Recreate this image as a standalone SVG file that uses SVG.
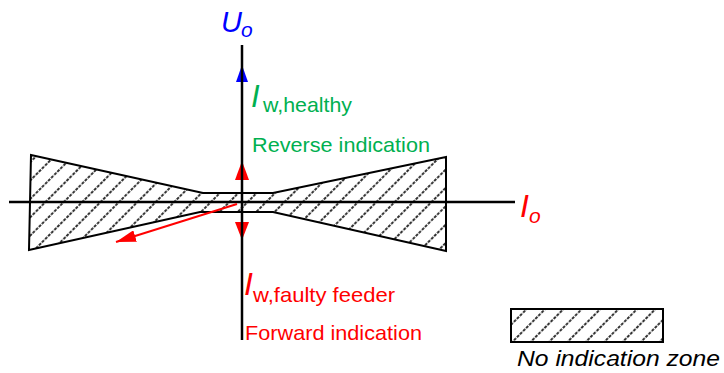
<svg xmlns="http://www.w3.org/2000/svg" width="724" height="373" viewBox="0 0 724 373">
<defs>
<pattern id="hatch" patternUnits="userSpaceOnUse" width="13" height="26" patternTransform="rotate(45)">
<line x1="6" y1="0" x2="6" y2="26" stroke="#000" stroke-width="1.6" stroke-dasharray="3 1.333"/>
</pattern>
<marker id="redHead" viewBox="0 0 20 12" refX="20" refY="6" markerWidth="20" markerHeight="12" markerUnits="userSpaceOnUse" orient="auto">
<path d="M0,0 L20,6 L0,12 Z" fill="#ff0000"/>
</marker>
</defs>
<style>
.edge{stroke:#000;stroke-width:2;fill:url(#hatch)}
.axis{stroke:#000;stroke-width:2.5;fill:none}
.t{font-family:"Liberation Sans",Arial,sans-serif}
.green{fill:#00b050}
.red{fill:#ff0000}
.blue{fill:#0000ff}
</style>
<g id="zone">
<polygon class="edge" points="31,155 203,193 273,193 446,157 446,251 273,212 200,212 29,250"/>
</g>
<g id="connectors">
<line class="axis" x1="9" y1="202" x2="515" y2="202"/>
<line x1="237" y1="204" x2="116" y2="242" stroke="#ff0000" stroke-width="2" marker-end="url(#redHead)"/>
<polygon points="242,161 235,180 249,180" fill="#ff0000"/>
<polygon points="242,240 235,222 249,222" fill="#ff0000"/>
<polygon points="242,65 236,82 248,82" fill="#0000ff"/>
<line class="axis" x1="242" y1="45" x2="242" y2="340"/>
</g>
<g id="uo-label">
<text class="t blue" x="221" y="32" font-size="29" font-style="italic">U</text>
<text class="t blue" x="241" y="37" font-size="21" font-style="italic">o</text>
</g>
<g id="io-label">
<text class="t red" x="520" y="217" font-size="32" font-style="italic">I</text>
<text class="t red" x="529" y="223" font-size="21" font-style="italic">o</text>
</g>
<g id="healthy">
<text class="t green" x="251" y="107" font-size="31" font-style="italic">I</text>
<text class="t green" x="263" y="112" font-size="21" textLength="89" lengthAdjust="spacingAndGlyphs">w,healthy</text>
<text class="t green" x="252" y="152" font-size="21" textLength="178" lengthAdjust="spacingAndGlyphs">Reverse indication</text>
</g>
<g id="faulty">
<text class="t red" x="244" y="295" font-size="32" font-style="italic">I</text>
<text class="t red" x="253" y="302" font-size="21" textLength="142" lengthAdjust="spacingAndGlyphs">w,faulty feeder</text>
<text class="t red" x="245" y="340" font-size="21" textLength="177" lengthAdjust="spacingAndGlyphs">Forward indication</text>
</g>
<g id="legend">
<rect x="511" y="309" width="152" height="33" class="edge"/>
<text class="t" x="517" y="366" font-size="22" font-style="italic" fill="#000" textLength="203" lengthAdjust="spacingAndGlyphs">No indication zone</text>
</g>
</svg>
